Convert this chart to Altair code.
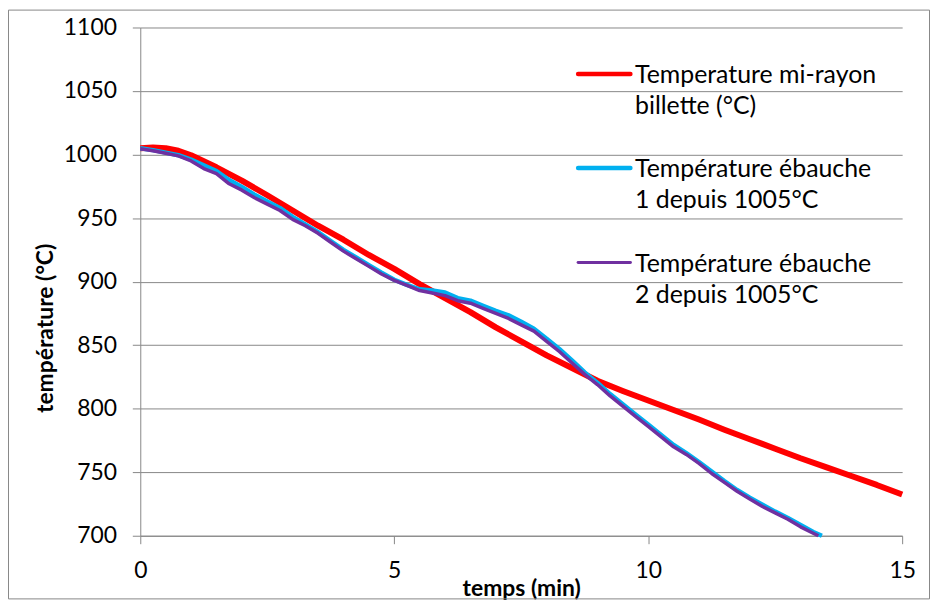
import altair as alt
import pandas as pd

# ---------------- data ----------------
time_red = [0, 0.25, 0.5, 0.75, 1.0, 1.5, 2.0, 2.5, 3.0, 3.5, 4.0, 4.5, 5.0, 5.5, 6.0,
            6.5, 7.0, 7.5, 8.0, 8.5, 9.0, 9.5, 10.0, 10.5, 11.0, 11.5, 12.0, 12.5,
            13.0, 13.5, 14.0, 14.5, 15.0]
temp_red = [1005, 1005.5, 1005, 1003, 999.5, 990, 979.5, 968, 956, 944, 933, 921, 910,
            898, 887, 876, 864, 853, 842, 832, 822, 814, 806.5, 799, 791.5, 783.5, 776, 768.5,
            761, 754, 747, 740, 732.5]

time_e1 = [0, 0.25, 0.5, 0.75, 1.0, 1.25, 1.5, 1.75, 2.0, 2.25, 2.5, 2.75, 3.0, 3.25,
           3.5, 3.75, 4.0, 4.25, 4.5, 4.75, 5.0, 5.25, 5.5, 5.75, 6.0, 6.25, 6.5, 6.75,
           7.0, 7.25, 7.5, 7.75, 8.0, 8.25, 8.5, 8.75, 9.0, 9.25, 9.5, 9.75, 10.0,
           10.25, 10.5, 10.75, 11.0, 11.25, 11.5, 11.75, 12.0, 12.25, 12.5, 12.75,
           13.0, 13.25, 13.42]
temp_e1 = [1005, 1003.5, 1001.5, 999.5, 996, 991.5, 987, 980, 974.5, 968.5, 963, 958,
           951, 945, 939, 932, 925, 919, 913, 907, 901.5, 897.5, 894, 893, 891.5, 887,
           885, 881, 877, 873.5, 868.5, 863, 855, 847, 838, 828.5, 820.5, 811.5, 803.5,
           795.5, 787.5, 779.5, 771.5, 765, 758, 750.5, 743, 736, 730, 724.5, 719, 714,
           708.5, 703, 700]

time_e2 = [0, 0.25, 0.5, 0.75, 1.0, 1.25, 1.5, 1.75, 2.0, 2.25, 2.5, 2.75, 3.0, 3.25,
           3.5, 3.75, 4.0, 4.25, 4.5, 4.75, 5.0, 5.25, 5.5, 5.75, 6.0, 6.25, 6.5, 6.75,
           7.0, 7.25, 7.5, 7.75, 8.0, 8.25, 8.5, 8.75, 9.0, 9.25, 9.5, 9.75, 10.0,
           10.25, 10.5, 10.75, 11.0, 11.25, 11.5, 11.75, 12.0, 12.25, 12.5, 12.75,
           13.0, 13.25, 13.35]
temp_e2 = [1004.5, 1003, 1001, 999, 995, 989, 985, 977, 972, 966, 961, 956, 949, 944,
           938, 931, 924, 918, 912, 906, 901, 897, 893, 891, 889, 885, 883, 879, 875,
           871, 866, 861, 853, 845, 836, 827, 819, 810, 802, 794, 786, 778, 770, 764,
           757, 749, 742, 735, 729, 723, 718, 713, 707, 702, 700]

series_labels = ["Temperature mi-rayon\nbillette (°C)",
                 "Température ébauche\n1 depuis 1005°C",
                 "Température ébauche\n2 depuis 1005°C"]
x_ticks = [0, 5, 10, 15]
y_ticks = [700, 750, 800, 850, 900, 950, 1000, 1050, 1100]

# ---------------- styles ----------------
colors = ["#FF0000", "#00B0F0", "#7030A0"]
line_widths = [6, 4.5, 3.5]
legend_widths = [4.5, 4.5, 3.0]
GRAY = "#878787"
FONT = "Lato"
FS = 23
FS_LEG = 25

W, H = 766, 511
PAD = {"left": 133, "top": 18, "right": 28, "bottom": 64}

# legend placement (data units on the shared scales)
leg_x0, leg_x1, leg_xt = 8.62, 9.65, 9.74
leg_y = [1063.4, 989.4, 915.0]

x_scale = alt.Scale(domain=[0, 15], nice=False)
y_scale = alt.Scale(domain=[700, 1100], nice=False, zero=False)

x_axis = alt.Axis(values=x_ticks, grid=False, tickSize=8, tickColor=GRAY,
                  domainColor=GRAY, labelFont=FONT, labelFontSize=FS,
                  labelColor="black", labelPadding=16, labelFlush=False,
                  format="d",
                  title="temps (min)", titleFont=FONT, titleFontSize=FS,
                  titleFontWeight="bold", titleColor="black", titleY=53,
                  titleBaseline="middle")
y_axis = alt.Axis(values=y_ticks, grid=True, gridColor=GRAY, gridWidth=1,
                  tickSize=8, tickColor=GRAY, domainColor=GRAY,
                  labelFont=FONT, labelFontSize=FS, labelColor="black",
                  labelPadding=16, labelFlush=False, format="d",
                  title="température (°C)", titleFont=FONT, titleFontSize=FS,
                  titleFontWeight="bold", titleColor="black", titleX=-95,
                  titleY=302, titleBaseline="middle", titleAngle=270)

series = [(time_red, temp_red), (time_e1, temp_e1), (time_e2, temp_e2)]
layers = []
for i, (tt, vv) in enumerate(series):
    df = pd.DataFrame({"x": tt, "y": vv, "idx": list(range(len(tt)))})
    layers.append(
        alt.Chart(df).mark_line(color=colors[i], strokeWidth=line_widths[i],
                                strokeJoin="round", strokeCap="butt").encode(
            x=alt.X("x:Q", scale=x_scale, axis=x_axis),
            y=alt.Y("y:Q", scale=y_scale, axis=y_axis),
            order="idx:Q",
        )
    )

# legend (custom, to get two-line labels)
for i in range(3):
    ldf = pd.DataFrame({"x": [leg_x0], "x1": [leg_x1], "xt": [leg_xt],
                        "y": [leg_y[i]], "label": [series_labels[i]]})
    layers.append(
        alt.Chart(ldf).mark_rule(color=colors[i], strokeWidth=legend_widths[i],
                                 strokeCap="round").encode(
            x=alt.X("x:Q", scale=x_scale, axis=x_axis),
            x2="x1:Q",
            y=alt.Y("y:Q", scale=y_scale, axis=y_axis),
        )
    )
    layers.append(
        alt.Chart(ldf).mark_text(align="left", baseline="middle", lineBreak="\n",
                                 lineHeight=31, dy=1.5, font=FONT, fontSize=FS_LEG,
                                 color="black").encode(
            x=alt.X("xt:Q", scale=x_scale, axis=x_axis),
            y=alt.Y("y:Q", scale=y_scale, axis=y_axis),
            text="label:N",
        )
    )

# outer chart frame
frame = alt.Chart(pd.DataFrame({"a": [0]})).mark_rect(
    fillOpacity=0, stroke=GRAY, strokeWidth=1, clip=False).encode(
    x=alt.value(-PAD["left"] + 0.5), x2=alt.value(W + PAD["right"] - 0.5),
    y=alt.value(-PAD["top"] + 0.5), y2=alt.value(H + PAD["bottom"] - 0.5))
layers.append(frame)

chart = alt.layer(*layers).properties(
    width=W, height=H, padding=PAD,
    autosize=alt.AutoSizeParams(type="none"),
    background="white",
).configure_view(strokeWidth=0)

chart.save("out.html", embed_options={"renderer": "svg", "actions": False})
